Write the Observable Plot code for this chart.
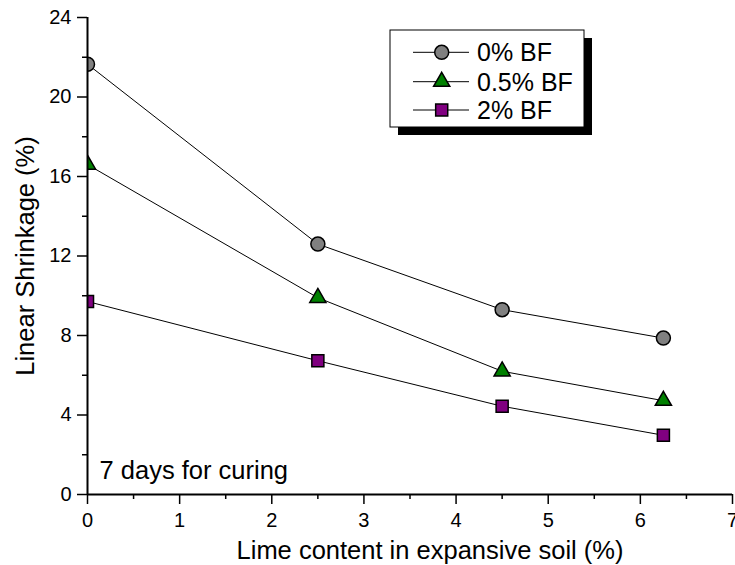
<!DOCTYPE html>
<html>
<head>
<meta charset="utf-8">
<script src="https://cdn.jsdelivr.net/npm/d3@7"></script>
<script src="https://cdn.jsdelivr.net/npm/@observablehq/plot@0.6"></script>
<style>
  body { margin: 0; background: #fff; }
  #chart { width: 735px; height: 565px; }
</style>
</head>
<body>
<div id="chart"></div>
<script>
// Linear shrinkage of lime-treated expansive soil, with basalt fibre (BF) content
const lime = [0, 2.5, 4.5, 6.25];
const series = ["0% BF", "0.5% BF", "2% BF"];
const shrink0 = [21.65, 12.6, 9.3, 7.87];
const shrink05 = [16.6, 9.9, 6.2, 4.72];
const shrink2 = [9.71, 6.73, 4.44, 2.98];

const xMajor = [0, 1, 2, 3, 4, 5, 6, 7];
const xMinor = [0.5, 1.5, 2.5, 3.5, 4.5, 5.5, 6.5];
const yMajor = [0, 4, 8, 12, 16, 20, 24];
const yMinor = [2, 6, 10, 14, 18, 22];

const colors = ["#808080", "#008000", "#800080"];
const symbols = ["circle", "triangle", "square"];
const radii = [7, 6, 6.8];

const values = [shrink0, shrink05, shrink2];
const rows = series.flatMap((s, i) => lime.map((x, j) => ({series: s, lime: x, shrink: values[i][j]})));

const font = "'Liberation Sans', Arial, Helvetica, sans-serif";

const seriesMarks = series.flatMap((s, i) => {
  const data = rows.filter(d => d.series === s);
  return [
    Plot.line(data, {x: "lime", y: "shrink", stroke: "#000", strokeWidth: 1}),
    Plot.dot(data, {x: "lime", y: "shrink", symbol: () => symbols[i], r: radii[i],
      fill: colors[i], stroke: "#000", strokeWidth: 1.5, clip: true})
  ];
});

const plot = Plot.plot({
  width: 735,
  height: 565,
  marginLeft: 87,
  marginRight: 3,
  marginTop: 17,
  marginBottom: 71,
  style: {fontFamily: font, fontSize: "20px", color: "#000", background: "#fff"},
  x: {domain: [0, 7]},
  y: {domain: [0, 24]},
  symbol: {type: "identity"},
  marks: [
    ...seriesMarks,
    Plot.axisX({ticks: xMinor, tickSize: 5, text: null, label: null, strokeWidth: 1.5}),
    Plot.axisX({ticks: xMajor, tickSize: 10, tickPadding: 8, label: null, strokeWidth: 1.5, tickFormat: d3.format("d")}),
    Plot.axisY({ticks: yMinor, tickSize: 5, text: null, label: null, strokeWidth: 1.5}),
    Plot.axisY({ticks: yMajor, tickSize: 10, tickPadding: 6, label: null, strokeWidth: 1.5, tickFormat: d3.format("d")}),
    Plot.ruleX([0], {strokeWidth: 2}),
    Plot.ruleY([0], {strokeWidth: 2}),
    Plot.text(["Lime content in expansive soil (%)"], {frameAnchor: "bottom", dx: 20, dy: 56,
      lineAnchor: "middle", fontSize: 25.5}),
    Plot.text(["Linear Shrinkage (%)"], {frameAnchor: "left", rotate: -90, dx: -62,
      textAnchor: "middle", lineAnchor: "middle", fontSize: 25.5}),
    Plot.text(["7 days for curing"], {frameAnchor: "bottom-left", textAnchor: "start", dx: 12, dy: -24,
      lineAnchor: "middle", fontSize: 25.5})
  ]
});

document.getElementById("chart").appendChild(plot);

// Legend box with drop shadow, drawn inside the plot area
const svg = d3.select(plot);
const lg = svg.append("g").attr("font-family", font).attr("font-size", 25).attr("text-anchor", "start");
const box = {x: 390, y: 30, w: 194, h: 97, shadow: 8};
lg.append("rect").attr("x", box.x + box.shadow).attr("y", box.y + box.shadow)
  .attr("width", box.w).attr("height", box.h).attr("fill", "#000");
lg.append("rect").attr("x", box.x).attr("y", box.y).attr("width", box.w).attr("height", box.h)
  .attr("fill", "#fff").attr("stroke", "#000").attr("stroke-width", 1);
const rowY = [52.3, 81.7, 110];
const symbolTypes = {circle: d3.symbolCircle, triangle: d3.symbolTriangle, square: d3.symbolSquare};
series.forEach((s, i) => {
  const g = lg.append("g").attr("transform", `translate(0,${rowY[i]})`);
  g.append("line").attr("x1", 413).attr("x2", 469).attr("stroke", "#000").attr("stroke-width", 1);
  g.append("path")
    .attr("d", d3.symbol(symbolTypes[symbols[i]], radii[i] * radii[i] * Math.PI)())
    .attr("transform", "translate(441.7,0)")
    .attr("fill", colors[i]).attr("stroke", "#000").attr("stroke-width", 1.5);
  g.append("text").attr("x", 477).attr("dy", "0.36em").text(s);
});
</script>
</body>
</html>
